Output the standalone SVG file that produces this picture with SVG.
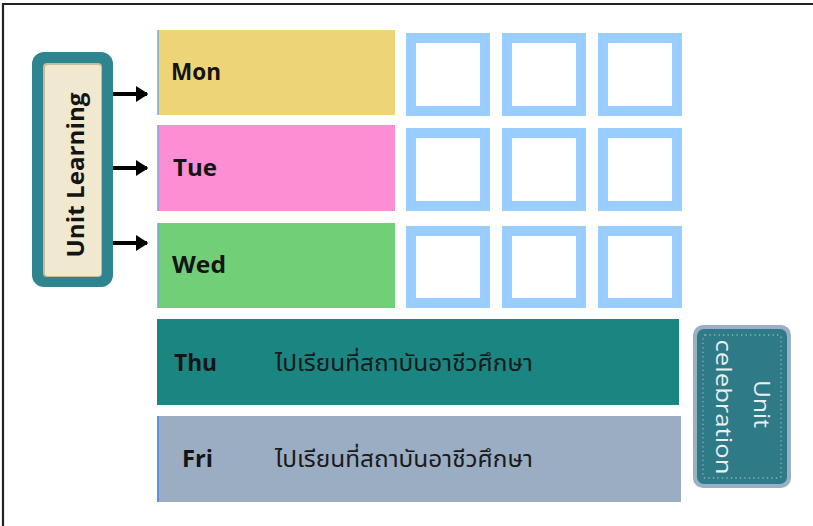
<svg xmlns="http://www.w3.org/2000/svg" width="813" height="526" viewBox="0 0 813 526">
<style>
.day{font-family:"Open Sans","DejaVu Sans",sans-serif;font-weight:bold;font-size:24px;fill:#141414}
.thai{font-family:"Noto Sans Thai","Noto Sans","DejaVu Sans",sans-serif;font-size:23px;fill:#1a1a1a}
.sq{fill:none;stroke:#99ccff;stroke-width:10}
.edge{stroke:#7aa6d8;stroke-width:1.5}
.conn{stroke:#000;stroke-width:4;fill:none}
</style>
<defs>
<marker id="ah" markerWidth="12" markerHeight="16" refX="11" refY="8" orient="auto" markerUnits="userSpaceOnUse" viewBox="0 0 12 16">
<path d="M0,1 L11,8 L0,15 z" fill="#000" stroke="#000" stroke-width="1.5" stroke-linejoin="round"/>
</marker>
</defs>
<rect width="813" height="526" fill="#fff"/>
<path d="M3,526 V4 H813" fill="none" stroke="#222" stroke-width="2.2"/>

<g id="unit-learning">
<rect x="32" y="52" width="81" height="235" rx="12" fill="#2e8590"/>
<rect x="43" y="63" width="59" height="214" rx="4" fill="#c9bc98"/>
<rect x="45" y="65" width="56" height="211" rx="3" fill="#f1e8d0"/>
<text class="day" font-size="23" text-anchor="middle" transform="translate(84,175) rotate(-90)" textLength="165" lengthAdjust="spacingAndGlyphs">Unit Learning</text>
</g>

<g id="connectors">
<line class="conn" x1="113" y1="94" x2="147" y2="94" marker-end="url(#ah)"/>
<line class="conn" x1="113" y1="168" x2="147" y2="168" marker-end="url(#ah)"/>
<line class="conn" x1="113" y1="243" x2="147" y2="243" marker-end="url(#ah)"/>
</g>

<g id="mon">
<rect x="158" y="30" width="237" height="85" fill="#edd477"/>
<line class="edge" x1="158" y1="30" x2="158" y2="115"/>
<text class="day" x="171" y="80" textLength="50" lengthAdjust="spacingAndGlyphs">Mon</text>
</g>
<g id="tue">
<rect x="158" y="125" width="237" height="86" fill="#fc8ed3"/>
<line class="edge" x1="158" y1="125" x2="158" y2="211"/>
<text class="day" x="173" y="176" textLength="44" lengthAdjust="spacingAndGlyphs">Tue</text>
</g>
<g id="wed">
<rect x="158" y="223" width="237" height="85" fill="#71cf77"/>
<line class="edge" x1="158" y1="223" x2="158" y2="308"/>
<text class="day" x="172" y="273" textLength="54" lengthAdjust="spacingAndGlyphs">Wed</text>
</g>

<g id="squares">
<rect class="sq" x="411" y="38" width="74" height="73"/>
<rect class="sq" x="507" y="38" width="74" height="73"/>
<rect class="sq" x="603" y="38" width="74" height="73"/>
<rect class="sq" x="411" y="133" width="74" height="73"/>
<rect class="sq" x="507" y="133" width="74" height="73"/>
<rect class="sq" x="603" y="133" width="74" height="73"/>
<rect class="sq" x="411" y="231" width="74" height="72"/>
<rect class="sq" x="507" y="231" width="74" height="72"/>
<rect class="sq" x="603" y="231" width="74" height="72"/>
</g>

<g id="thu">
<rect x="157" y="319" width="522" height="86" fill="#1a8581"/>
<text class="day" x="174" y="371" textLength="43" lengthAdjust="spacingAndGlyphs">Thu</text>
<text class="thai" x="275" y="371" textLength="258" lengthAdjust="spacingAndGlyphs">ไปเรียนที่สถาบันอาชีวศึกษา</text>
</g>
<g id="fri">
<rect x="157" y="416" width="524" height="86" fill="#9aadc3"/>
<line x1="158" y1="416" x2="158" y2="502" stroke="#5b8fd6" stroke-width="2"/>
<text class="day" x="182" y="467" textLength="31" lengthAdjust="spacingAndGlyphs">Fri</text>
<text class="thai" x="275" y="467" textLength="258" lengthAdjust="spacingAndGlyphs">ไปเรียนที่สถาบันอาชีวศึกษา</text>
</g>

<g id="unit-celebration">
<rect x="693" y="325" width="98" height="163" rx="10" fill="#9aafc4"/>
<rect x="697" y="329" width="90" height="155" rx="7" fill="#2f7a87"/>
<rect x="703" y="335" width="78" height="143" rx="2" fill="none" stroke="#8fb3bd" stroke-width="1.3" stroke-dasharray="1.3 3.2"/>
<g font-family="'Open Sans','DejaVu Sans',sans-serif" font-size="22" fill="#e9f0f0" text-anchor="middle">
<text transform="translate(754,404) rotate(90)" textLength="48" lengthAdjust="spacingAndGlyphs">Unit</text>
<text transform="translate(716,407) rotate(90)" textLength="135" lengthAdjust="spacingAndGlyphs">celebration</text>
</g>
</g>
</svg>
